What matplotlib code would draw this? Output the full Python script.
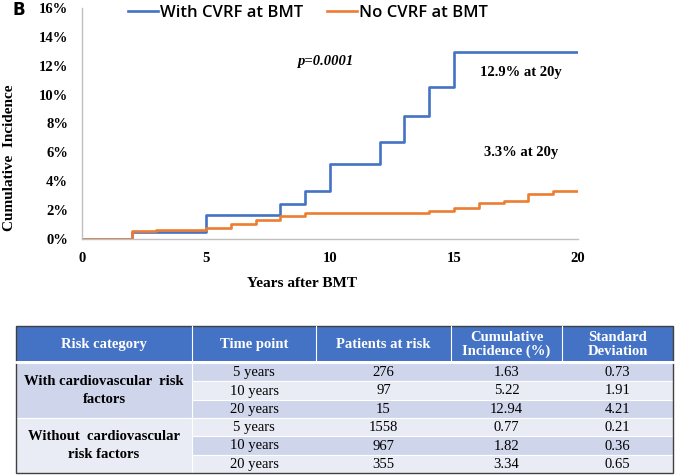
import matplotlib
matplotlib.use("Agg")
from matplotlib import pyplot as plt
from matplotlib.patches import Rectangle
from matplotlib.ticker import FuncFormatter

# step curves (years, cumulative incidence in %)
years_with = [0, 2, 3, 5, 8, 9, 10, 12, 13, 14, 15, 20]
ci_with = [0, 0.5, 0.5, 1.63, 2.4, 3.3, 5.22, 6.7, 8.5, 10.55, 12.94, 12.94]
years_no = [0, 2, 3, 5, 6, 7, 8, 9, 14, 15, 16, 17, 18, 19, 20]
ci_no = [0, 0.53, 0.65, 0.75, 1.04, 1.29, 1.59, 1.82, 1.94, 2.12, 2.47, 2.63, 3.14, 3.35, 3.35]

x_ticks = [0, 5, 10, 15, 20]
y_ticks = [0, 2, 4, 6, 8, 10, 12, 14, 16]

# table below the chart
header = ["Risk category", "Time point", "Patients at risk",
          "Cumulative\nIncidence (%)", "Standard\nDeviation"]
groups = ["With cardiovascular  risk\nfactors", "Without  cardiovascular\nrisk factors"]
time_points = ["5 years", "10 years", "20 years", "5 years", "10 years", "20 years"]
patients = ["276", "97", "15", "1558", "967", "355"]
ci_table = ["1.63", "5.22", "12.94", "0.77", "1.82", "3.34"]
sd_table = ["0.73", "1.91", "4.21", "0.21", "0.36", "0.65"]

BLUE = "#4472C4"
ORANGE = "#ED7D31"
DARK_ROW = "#CFD5EA"
LIGHT_ROW = "#E9EBF5"
SERIF = "Liberation Serif"

W, H = 677, 476
fig = plt.figure(figsize=(W / 100, H / 100), dpi=100)

# ---- chart ----
ax = fig.add_axes([82 / W, 1 - 239 / H, 496 / W, 231 / H])
ax.plot(years_with, ci_with, drawstyle="steps-post", color=BLUE, lw=1.9,
        label="With CVRF at BMT")
ax.plot(years_no, ci_no, drawstyle="steps-post", color=ORANGE, lw=1.9,
        label="No CVRF at BMT")
ax.set_xlim(0, 20)
ax.set_ylim(0, 16)
ax.set_xticks(x_ticks)
ax.set_yticks(y_ticks)
ax.yaxis.set_major_formatter(FuncFormatter(lambda v, p: "%d%%" % v))
ax.tick_params(length=0, labelsize=10.5)
ax.tick_params(axis="y", pad=10)
ax.tick_params(axis="x", pad=9)
for lab in ax.get_xticklabels() + ax.get_yticklabels():
    lab.set_fontfamily(SERIF)
    lab.set_fontweight("bold")
for s in ["top", "right"]:
    ax.spines[s].set_visible(False)
for s in ["left", "bottom"]:
    ax.spines[s].set_color("#BFBFBF")
    ax.spines[s].set_linewidth(1.0)

ax.set_xlabel("Years after BMT", fontfamily=SERIF, fontweight="bold", fontsize=11)
ax.xaxis.set_label_coords(0.444, -0.165)
ax.set_ylabel("Cumulative  Incidence", fontfamily=SERIF, fontweight="bold", fontsize=11)
ax.yaxis.set_label_coords(-0.133, 0.35)

ax.text(9.8, 12.26, "p=0.0001", fontfamily=SERIF, fontstyle="italic",
        fontweight="bold", fontsize=10.5, ha="center", va="center")
ax.text(17.7, 11.56, "12.9% at 20y", fontfamily=SERIF, fontweight="bold",
        fontsize=10.5, ha="center", va="center")
ax.text(17.7, 5.96, "3.3% at 20y", fontfamily=SERIF, fontweight="bold",
        fontsize=10.5, ha="center", va="center")

fig.legend(loc="center", bbox_to_anchor=(308 / W, 1 - 13 / H), ncol=2,
           frameon=False, handlelength=1.8, handletextpad=0.15, columnspacing=1.4,
           prop={"family": "Open Sans", "weight": "semibold", "size": 12})

fig.text(12 / W, 1 - 10 / H, "B", fontfamily="DejaVu Sans", fontweight="bold",
         fontsize=12, ha="left", va="center")

# ---- table (pixel coordinates) ----
tb = fig.add_axes([0, 0, 1, 1])
tb.set_xlim(0, W)
tb.set_ylim(H, 0)
tb.axis("off")

cols = [16, 192, 316, 451, 562, 673]
top, head_bot = 326, 361
row_top = 363
row_h = (473 - row_top) / 6

tb.add_patch(Rectangle((cols[0], top), cols[-1] - cols[0], head_bot - top,
                       facecolor=BLUE, edgecolor="none"))
for j, h in enumerate(header):
    tb.text((cols[j] + cols[j + 1]) / 2, (top + head_bot) / 2 + 1, h, color="white",
            fontfamily=SERIF, fontweight="bold", fontsize=10.5,
            ha="center", va="center", linespacing=1.05)

for i in range(6):
    y0 = row_top + i * row_h
    fc = DARK_ROW if i % 2 == 0 else LIGHT_ROW
    tb.add_patch(Rectangle((cols[1], y0), cols[-1] - cols[1], row_h,
                           facecolor=fc, edgecolor="white", lw=0.8))
    for j, val in enumerate([time_points[i], patients[i], ci_table[i], sd_table[i]]):
        tb.text((cols[j + 1] + cols[j + 2]) / 2, y0 + row_h / 2 + 0.5, val,
                fontfamily=SERIF, fontsize=10.5, ha="center", va="center")

for g, label in enumerate(groups):
    y0 = row_top + g * 3 * row_h
    fc = DARK_ROW if g == 0 else LIGHT_ROW
    tb.add_patch(Rectangle((cols[0], y0), cols[1] - cols[0], 3 * row_h,
                           facecolor=fc, edgecolor="white", lw=0.8))
    tb.text((cols[0] + cols[1]) / 2, y0 + 1.5 * row_h, label, fontfamily=SERIF,
            fontweight="bold", fontsize=10.5, ha="center", va="center",
            linespacing=1.5)

for x in cols[1:-1]:
    tb.plot([x, x], [top, head_bot], color="white", lw=0.8)
tb.plot([cols[0], cols[-1]], [head_bot + 1, head_bot + 1], color="white", lw=2)
tb.add_patch(Rectangle((cols[0], top), cols[-1] - cols[0], 473 - top,
                       facecolor="none", edgecolor="#404040", lw=1.0))

fig.savefig("out.png", dpi=100)
